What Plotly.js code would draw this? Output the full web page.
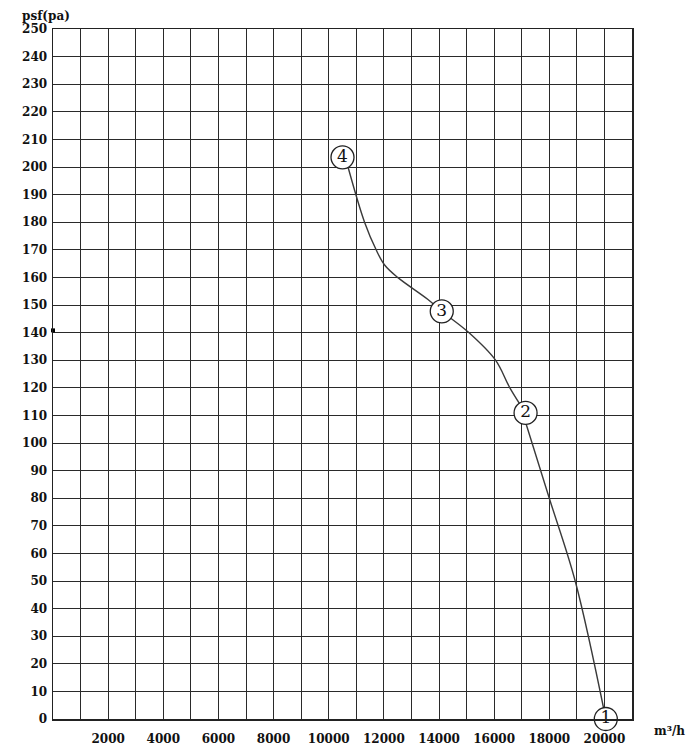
<!DOCTYPE html>
<html>
<head>
<meta charset="utf-8">
<script src="https://cdn.plot.ly/plotly-3.0.1.min.js"></script>
<style>html,body{margin:0;padding:0;background:#fff;}#chart{width:700px;height:753px;}</style>
</head>
<body>
<div id="chart"></div>
<script>
// Fan performance curve: airflow (m³/h) vs static pressure (Pa)
// Upper part of the curve: from point 4 down to point 2
var upperFlow     = [10700, 11300, 11720, 12020, 12500, 13600, 14100, 15080, 16050, 16570, 17140];
var upperPressure = [200,   180,   170,   164.6, 160,   152,   147.7, 140,   130,   120,   110.9];
// Lower part of the curve: from point 2 down to point 1
var lowerFlow     = [17140, 18000, 18940, 20050];
var lowerPressure = [107.5, 80,    50,    0];

var pointNumbers  = ['1', '2', '3', '4'];
var pointFlow     = [20050, 17140, 14100, 10500];
var pointPressure = [0,     110.9, 147.7, 203.5];

var xTickVals = [2000, 4000, 6000, 8000, 10000, 12000, 14000, 16000, 18000, 20000];
var xTickText = ['2000', '4000', '6000', '8000', '10000', '12000', '14000', '16000', '18000', '20000'];
var yTickVals = [0,10,20,30,40,50,60,70,80,90,100,110,120,130,140,150,160,170,180,190,200,210,220,230,240,250];
var yTickText = yTickVals.map(String);

var FONT = 'DejaVu Serif, Liberation Serif, serif';
var GRID = '#2a2a2a';
var curveLine = {color: '#3a3a3a', width: 1.4, shape: 'spline', smoothing: 1};

var traces = [
  {x: upperFlow, y: upperPressure, type: 'scatter', mode: 'lines', line: curveLine, hoverinfo: 'skip', showlegend: false},
  {x: lowerFlow, y: lowerPressure, type: 'scatter', mode: 'lines', line: curveLine, hoverinfo: 'skip', showlegend: false},
  {
    x: pointFlow, y: pointPressure, type: 'scatter', mode: 'markers+text',
    marker: {size: 23, color: '#fff', line: {color: '#222', width: 1.3}},
    text: pointNumbers, textposition: 'middle center',
    textfont: {family: FONT, size: 17, color: '#111'},
    cliponaxis: false, showlegend: false
  },
  {
    x: [0], y: [140.8], type: 'scatter', mode: 'markers',
    marker: {size: 4, color: '#000', symbol: 'square'},
    cliponaxis: false, showlegend: false, hoverinfo: 'skip'
  }
];

var layout = {
  width: 700, height: 753,
  margin: {l: 53, r: 68, t: 29, b: 34},
  paper_bgcolor: '#fff', plot_bgcolor: '#fff',
  showlegend: false,
  font: {family: FONT, color: '#111'},
  xaxis: {
    range: [0, 21000], tickmode: 'array', tickvals: xTickVals, ticktext: xTickText,
    showgrid: true, gridcolor: GRID, gridwidth: 1,
    minor: {dtick: 1000, tick0: 0, showgrid: true, gridcolor: GRID, gridwidth: 1},
    zeroline: false, showline: true, linecolor: '#222', linewidth: 1.5, mirror: true,
    ticks: '', ticklabelstandoff: 8,
    tickfont: {family: FONT, size: 12, color: '#111', weight: 'bold'},
    fixedrange: true
  },
  yaxis: {
    range: [0, 250], tickmode: 'array', tickvals: yTickVals, ticktext: yTickText,
    showgrid: true, gridcolor: GRID, gridwidth: 1,
    zeroline: false, showline: true, linecolor: '#222', linewidth: 1.5, mirror: true,
    ticks: '', ticklabelstandoff: 2,
    tickfont: {family: FONT, size: 12, color: '#111', weight: 'bold'},
    fixedrange: true
  },
  annotations: [
    {text: 'psf(pa)', xref: 'paper', yref: 'paper', x: -0.012, y: 1.0, yshift: 13,
     xanchor: 'center', yanchor: 'middle', showarrow: false,
     font: {family: FONT, size: 12, color: '#111', weight: 'bold'}},
    {text: 'm³/h', xref: 'paper', yref: 'paper', x: 1.0, xshift: 37, y: 0, yshift: -12,
     xanchor: 'center', yanchor: 'middle', showarrow: false,
     font: {family: FONT, size: 12, color: '#111', weight: 'bold'}}
  ]
};

Plotly.newPlot('chart', traces, layout, {displayModeBar: false, staticPlot: true});
</script>
</body>
</html>
